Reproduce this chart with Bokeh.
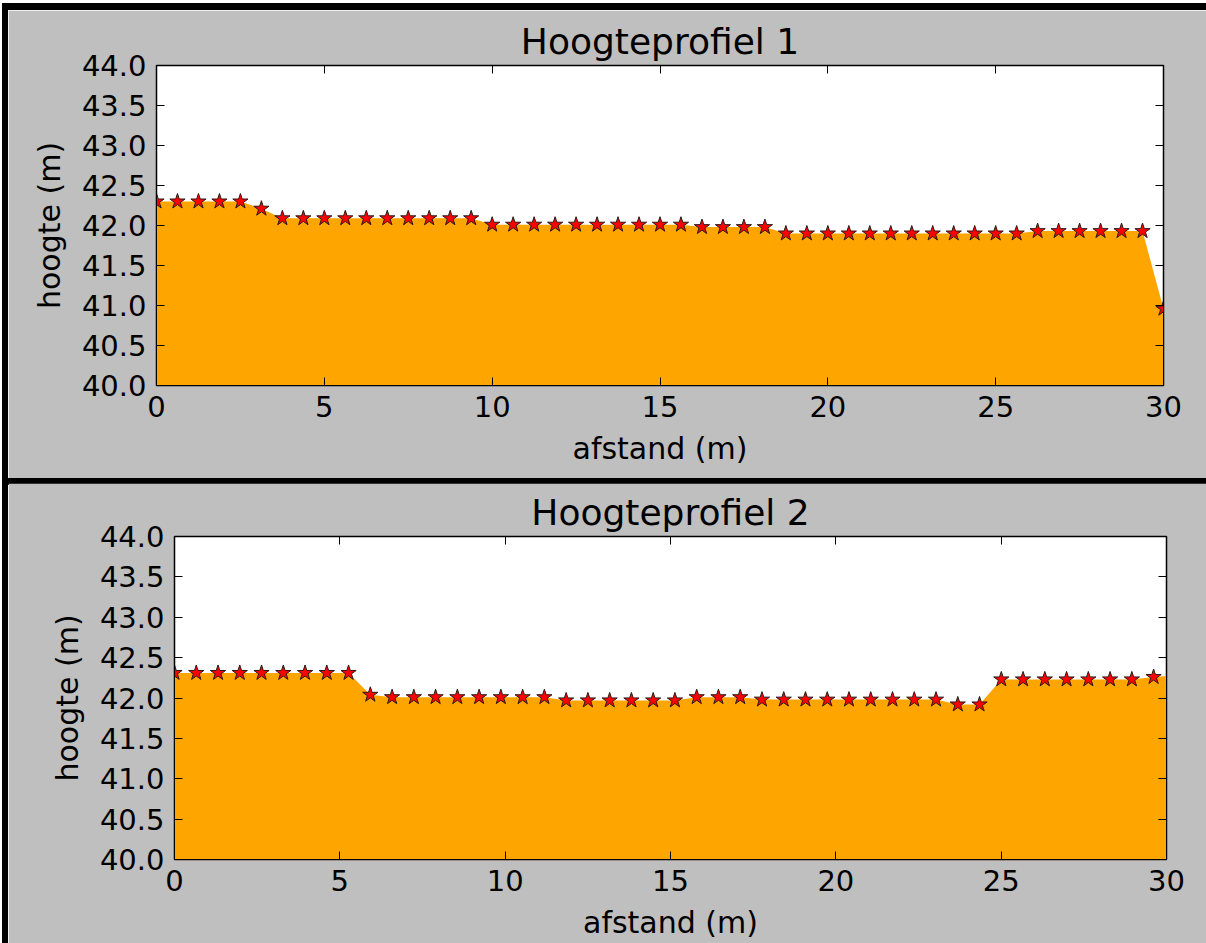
from bokeh.plotting import figure
from bokeh.models import Range1d, FixedTicker, NumeralTickFormatter, LinearAxis
from bokeh.embed import file_html
from bokeh.resources import INLINE

# ---------------- data ----------------
afstand_1 = [0.0, 0.625, 1.25, 1.875, 2.5, 3.125, 3.75, 4.375, 5.0, 5.625,
             6.25, 6.875, 7.5, 8.125, 8.75, 9.375, 10.0, 10.625, 11.25, 11.875,
             12.5, 13.125, 13.75, 14.375, 15.0, 15.625, 16.25, 16.875, 17.5, 18.125,
             18.75, 19.375, 20.0, 20.625, 21.25, 21.875, 22.5, 23.125, 23.75, 24.375,
             25.0, 25.625, 26.25, 26.875, 27.5, 28.125, 28.75, 29.375, 30.0]
hoogte_1 = [42.30, 42.30, 42.30, 42.30, 42.30, 42.21,
            42.09, 42.09, 42.09, 42.09, 42.09, 42.09, 42.09, 42.09, 42.09, 42.09,
            42.01, 42.01, 42.01, 42.01, 42.01, 42.01, 42.01, 42.01, 42.01, 42.01,
            41.98, 41.98, 41.98, 41.98,
            41.90, 41.90, 41.90, 41.90, 41.90, 41.90, 41.90, 41.90, 41.90, 41.90, 41.90, 41.90,
            41.93, 41.93, 41.93, 41.93, 41.93, 41.93,
            40.96]

afstand_2 = [0.0, 0.658, 1.316, 1.974, 2.632, 3.29, 3.948, 4.606, 5.264, 5.922,
             6.58, 7.238, 7.896, 8.554, 9.212, 9.87, 10.528, 11.186, 11.844, 12.502,
             13.16, 13.818, 14.476, 15.134, 15.792, 16.45, 17.108, 17.766, 18.424, 19.082,
             19.74, 20.398, 21.056, 21.714, 22.372, 23.03, 23.688, 24.346, 25.004, 25.662,
             26.32, 26.978, 27.636, 28.294, 28.952, 29.61, 30.268]
hoogte_2 = [42.31, 42.31, 42.31, 42.31, 42.31, 42.31, 42.31, 42.31, 42.31,
            42.04,
            42.01, 42.01, 42.01, 42.01, 42.01, 42.01, 42.01, 42.01,
            41.97, 41.97, 41.97, 41.97, 41.97, 41.97,
            42.01, 42.01, 42.01,
            41.98, 41.98, 41.98, 41.98, 41.98, 41.98, 41.98, 41.98, 41.98,
            41.92, 41.92,
            42.23, 42.23, 42.23, 42.23, 42.23, 42.23, 42.23,
            42.26, 42.28]

titels = ["Hoogteprofiel 1", "Hoogteprofiel 2"]
x_label = "afstand (m)"
y_label = "hoogte (m)"
x_ticks = [0, 5, 10, 15, 20, 25, 30]
y_ticks = [40.0, 40.5, 41.0, 41.5, 42.0, 42.5, 43.0, 43.5, 44.0]
x_bereik = (0, 30)
y_bereik = (40.0, 44.0)
y_basis = 40.0

FONT = "DejaVu Sans"
GRAY = "#bfbfbf"


def style_axis(ax):
    ax.axis_line_color = "black"
    ax.major_tick_line_color = "black"
    ax.major_tick_in = 8
    ax.major_tick_out = 0
    ax.minor_tick_line_color = None
    ax.major_label_text_font = FONT
    ax.major_label_text_color = "black"
    ax.major_label_text_font_size = "29px"
    ax.axis_label_text_font = FONT
    ax.axis_label_text_font_style = "normal"
    ax.axis_label_text_font_size = "30px"
    ax.axis_label_text_color = "black"


def mirror_axis(ticks):
    # tick marks only (drawn as minor ticks, which carry no labels)
    ax = LinearAxis(ticker=FixedTicker(ticks=[], minor_ticks=ticks))
    ax.axis_line_color = "black"
    ax.major_tick_line_color = None
    ax.minor_tick_line_color = "black"
    ax.minor_tick_in = 8
    ax.minor_tick_out = 0
    ax.major_tick_in = 0
    ax.major_tick_out = 0
    ax.major_label_standoff = 0
    return ax


def panel(x, y, title, width, height, left, right, top, bottom, styles):
    p = figure(width=width, height=height,
               x_range=Range1d(*x_bereik), y_range=Range1d(*y_bereik),
               output_backend="svg", toolbar_location=None,
               min_border_left=left, min_border_right=right,
               min_border_top=top, min_border_bottom=bottom,
               background_fill_color="white", border_fill_color=GRAY,
               outline_line_color="black", outline_line_width=1.5,
               title=title, x_axis_label=x_label, y_axis_label=y_label,
               styles=styles)
    p.title.align = "center"
    p.title.text_font = FONT
    p.title.text_font_size = "36px"
    p.title.text_font_style = "normal"
    p.title.text_color = "black"
    p.title.standoff = 8
    p.grid.visible = False

    p.xaxis.ticker = FixedTicker(ticks=x_ticks)
    p.yaxis.ticker = FixedTicker(ticks=y_ticks)
    p.yaxis.formatter = NumeralTickFormatter(format="0.0")
    for ax in p.xaxis + p.yaxis:
        style_axis(ax)
    p.xaxis.major_label_standoff = 10
    p.xaxis.axis_label_standoff = 11
    p.yaxis.major_label_standoff = 10
    p.yaxis.axis_label_standoff = 12

    p.add_layout(mirror_axis(x_ticks), "above")
    p.add_layout(mirror_axis(y_ticks), "right")

    p.varea(x=x, y1=y_basis, y2=y, fill_color="#ffa500")
    p.scatter(x=x, y=y, marker="star", size=16, fill_color="red",
              line_color="#2a1a1a", line_width=1)
    return p


p1 = panel(afstand_1, hoogte_1, titels[0], 1198, 468, 148, 43, 55, 93,
           {"position": "relative", "top": "10px", "left": "8px",
            "box-shadow": "1px 0px 0px 7px black"})
p2 = panel(afstand_2, hoogte_2, titels[1], 1198, 460, 166, 40, 53, 84,
           {"position": "relative", "top": "15px", "left": "8px",
            "box-shadow": "0px 1px 0px 6px black"})

open("out.html", "w").write(file_html([p1, p2], INLINE))
